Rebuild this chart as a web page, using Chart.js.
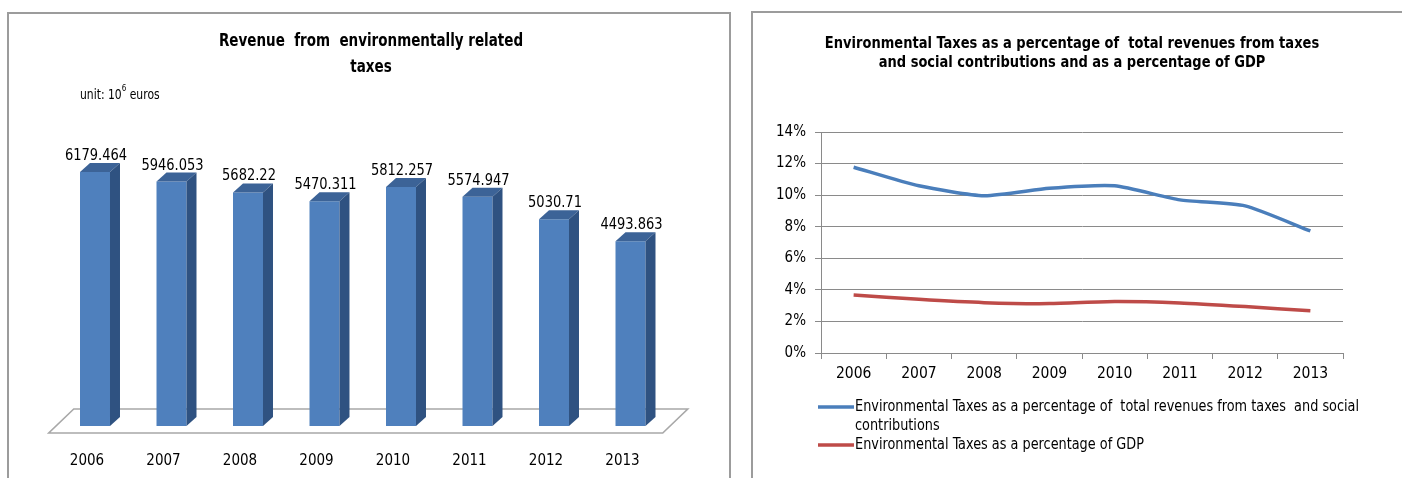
<!DOCTYPE html>
<html><head><meta charset="utf-8">
<script src="https://cdn.jsdelivr.net/npm/chart.js@4/dist/chart.umd.min.js"></script>
<style>
html,body{margin:0;padding:0;background:#fff;width:1402px;height:478px;overflow:hidden;}
.panel{position:absolute;border:2px solid #9c9c9c;border-bottom:none;box-sizing:border-box;}
#p1{left:7px;top:12px;width:724px;height:480px;}
#p2{left:751px;top:11px;width:660px;height:480px;border-right:none;}
.wrap{position:absolute;top:0;height:478px;}
#w1{left:0;width:740px;}
#w2{left:740px;width:662px;}
</style></head><body>
<div class="panel" id="p1"></div>
<div class="panel" id="p2"></div>
<div class="wrap" id="w1"><canvas id="c1" width="740" height="478"></canvas></div>
<div class="wrap" id="w2"><canvas id="c2" width="662" height="478"></canvas></div>
<script>
// ---- data ----
const years = ['2006','2007','2008','2009','2010','2011','2012','2013'];
const revenue = [6179.464, 5946.053, 5682.22, 5470.311, 5812.257, 5574.947, 5030.71, 4493.863];
const revenueLabels = ['6179.464','5946.053','5682.22','5470.311','5812.257','5574.947','5030.71','4493.863'];
const pctOfTaxRevenue = [11.77, 10.59, 9.96, 10.43, 10.59, 9.70, 9.32, 7.73];
const pctOfGDP = [3.68, 3.40, 3.19, 3.13, 3.26, 3.17, 2.94, 2.67];
const leftTitle = ['Revenue  from  environmentally related', 'taxes'];
const rightTitle = ['Environmental Taxes as a percentage of  total revenues from taxes', 'and social contributions and as a percentage of GDP'];
const seriesNames = ['Environmental Taxes as a percentage of  total revenues from taxes  and social contributions',
                     'Environmental Taxes as a percentage of GDP'];

const NARROW = "'Liberation Sans Narrow','Arial Narrow','DejaVu Sans Condensed',sans-serif";
const SY = 1.15; // vertical stretch of the condensed text

function tallText(ctx, text, x, y) {
  ctx.save();
  ctx.translate(x, y);
  ctx.scale(1, SY);
  ctx.fillText(text, 0, 0);
  ctx.restore();
}

// ---- left: 3D-look bar chart ----
const bar3d = {
  id: 'bar3d',
  beforeDatasetsDraw(chart) {
    const {ctx, chartArea: a} = chart;
    ctx.save();
    ctx.beginPath();
    ctx.moveTo(a.left + 17, a.bottom - 17);
    ctx.lineTo(a.right + 19, a.bottom - 17);
    ctx.lineTo(a.right - 6, a.bottom + 7);
    ctx.lineTo(a.left - 8, a.bottom + 7);
    ctx.closePath();
    ctx.fillStyle = '#ffffff';
    ctx.fill();
    ctx.strokeStyle = '#a8a8a8';
    ctx.lineWidth = 1.6;
    ctx.stroke();
    ctx.restore();
  },
  afterDatasetsDraw(chart) {
    const {ctx} = chart;
    const meta = chart.getDatasetMeta(0);
    const dx = 10, dy = 9;
    ctx.save();
    meta.data.forEach((b, i) => {
      const l = b.x - b.width / 2, r = b.x + b.width / 2;
      ctx.beginPath();
      ctx.moveTo(l, b.y); ctx.lineTo(r, b.y);
      ctx.lineTo(r + dx, b.y - dy); ctx.lineTo(l + dx, b.y - dy);
      ctx.closePath();
      ctx.fillStyle = '#3C6397'; ctx.fill();
      ctx.beginPath();
      ctx.moveTo(r, b.y); ctx.lineTo(r + dx, b.y - dy);
      ctx.lineTo(r + dx, b.base - dy); ctx.lineTo(r, b.base);
      ctx.closePath();
      ctx.fillStyle = '#2F5281'; ctx.fill();
      ctx.fillStyle = '#000';
      ctx.font = '14.5px ' + NARROW;
      ctx.textAlign = 'center';
      ctx.textBaseline = 'alphabetic';
      tallText(ctx, revenueLabels[i], b.x + 1, b.y - dy - 3);
    });
    ctx.restore();
  },
  afterDraw(chart) {
    const {ctx} = chart;
    ctx.save();
    ctx.fillStyle = '#000';
    ctx.textAlign = 'center';
    ctx.textBaseline = 'middle';
    ctx.font = 'bold 15px ' + NARROW;
    tallText(ctx, leftTitle[0], 371, 42);
    tallText(ctx, leftTitle[1], 371, 68);
    ctx.textAlign = 'left';
    ctx.font = '12px ' + NARROW;
    let x = 80;
    tallText(ctx, 'unit: 10', x, 95);
    x += ctx.measureText('unit: 10').width;
    ctx.font = '8px ' + NARROW;
    tallText(ctx, '6', x, 89);
    x += ctx.measureText('6').width;
    ctx.font = '12px ' + NARROW;
    tallText(ctx, ' euros', x, 95);
    ctx.restore();
  }
};

new Chart(document.getElementById('c1'), {
  type: 'bar',
  data: {
    labels: years,
    datasets: [{
      label: 'Revenue',
      data: revenue,
      backgroundColor: '#4F80BD',
      borderWidth: 0,
      barPercentage: 0.49,
      categoryPercentage: 0.8
    }]
  },
  options: {
    responsive: false,
    animation: false,
    layout: {padding: {left: 56.75, right: 71.25, top: 97.2, bottom: 0}},
    plugins: {legend: {display: false}, title: {display: false}, tooltip: {enabled: false}},
    scales: {
      x: {
        grid: {display: false, drawTicks: false},
        border: {display: false},
        ticks: {color: '#000', font: {size: 15, family: NARROW}, padding: 26, labelOffset: -8},
        afterFit(s) { s.height = 52; }
      },
      y: {display: false, min: 0, max: 8000}
    }
  },
  plugins: [bar3d]
});

// ---- right: line chart ----
const lineExtras = {
  id: 'lineExtras',
  afterDraw(chart) {
    const {ctx, chartArea: a} = chart;
    ctx.save();
    ctx.strokeStyle = '#8a8a8a';
    ctx.lineWidth = 1;
    ctx.beginPath();
    ctx.moveTo(Math.round(a.right) + 0.5, a.bottom);
    ctx.lineTo(Math.round(a.right) + 0.5, a.bottom + 6);
    ctx.stroke();
    ctx.fillStyle = '#000';
    ctx.textAlign = 'center';
    ctx.textBaseline = 'middle';
    ctx.font = 'bold 14.5px ' + NARROW;
    tallText(ctx, rightTitle[0], 332, 44);
    tallText(ctx, rightTitle[1], 332, 63);
    ctx.textAlign = 'left';
    ctx.font = '14.3px ' + NARROW;
    const tx = 115, maxW = 515, lh = 19;
    let y = 407;
    chart.data.datasets.forEach(ds => {
      ctx.strokeStyle = ds.borderColor;
      ctx.lineWidth = 3.5;
      ctx.beginPath();
      ctx.moveTo(78, y); ctx.lineTo(114, y);
      ctx.stroke();
      const words = ds.label.split(' ');
      let line = '';
      const lines = [];
      words.forEach((w, i) => {
        const test = i === 0 ? w : line + ' ' + w;
        if (ctx.measureText(test).width > maxW && line !== '') { lines.push(line); line = w; }
        else line = test;
      });
      lines.push(line);
      lines.forEach(t => { tallText(ctx, t, tx, y); y += lh; });
    });
    ctx.restore();
  }
};

new Chart(document.getElementById('c2'), {
  type: 'line',
  data: {
    labels: years,
    datasets: [
      {label: seriesNames[0], data: pctOfTaxRevenue, borderColor: '#4A7EBB', borderWidth: 3.5, pointRadius: 0, tension: 0.2, fill: false},
      {label: seriesNames[1], data: pctOfGDP, borderColor: '#BE4B48', borderWidth: 3.5, pointRadius: 0, tension: 0.2, fill: false}
    ]
  },
  options: {
    responsive: false,
    animation: false,
    layout: {padding: {left: 0, right: 59, top: 132, bottom: 85}},
    plugins: {legend: {display: false}, title: {display: false}, tooltip: {enabled: false}},
    scales: {
      x: {
        offset: true,
        grid: {display: true, drawOnChartArea: false, drawTicks: true, tickLength: 6, offset: true, color: '#8a8a8a'},
        border: {display: true, color: '#8a8a8a'},
        ticks: {color: '#000', font: {size: 15.5, family: NARROW}, padding: 6},
        afterFit(s) { s.height = 40; }
      },
      y: {
        min: 0, max: 14,
        grid: {color: '#8a8a8a', tickLength: 6},
        border: {display: true, color: '#8a8a8a'},
        ticks: {stepSize: 2, color: '#000', font: {size: 15, family: NARROW}, padding: 9, callback: v => v + '%'},
        afterFit(s) { s.width = 81; }
      }
    }
  },
  plugins: [lineExtras]
});
</script>
</body></html>
